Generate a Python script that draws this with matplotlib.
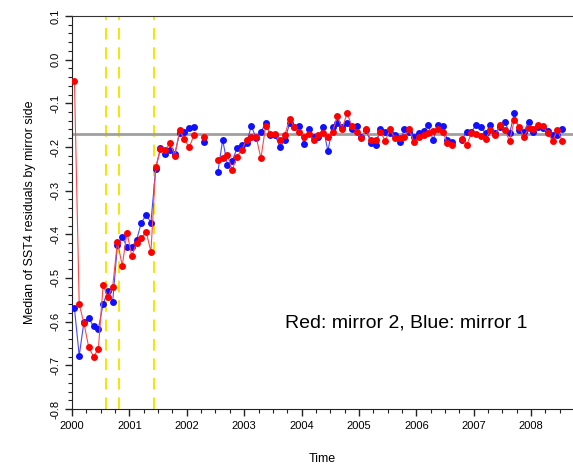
import matplotlib
matplotlib.use("Agg")
import matplotlib.pyplot as plt
from matplotlib.ticker import MultipleLocator
import numpy as np

plt.rcParams['font.family'] = ['Liberation Sans', 'DejaVu Sans']

# monthly index since Jan 2000
months = np.arange(103)
nan = np.nan

# mirror 2 (red)
red = [-0.048, -0.56, -0.604, -0.659, -0.68, -0.663, -0.517, -0.544, -0.52, -0.417,
       -0.472, -0.396, -0.45, -0.419, -0.409, -0.394, -0.44, -0.245, -0.205, -0.208,
       -0.19, -0.22, -0.162, -0.182, -0.201, -0.173, nan, -0.177, nan, nan,
       -0.23, -0.226, -0.218, -0.253, -0.222, -0.207, -0.183, -0.177, -0.177, -0.226,
       -0.152, -0.17, -0.171, -0.184, -0.173, -0.135, -0.155, -0.166, -0.177, -0.17,
       -0.184, -0.173, -0.168, -0.177, -0.165, -0.129, -0.158, -0.123, -0.151, -0.165,
       -0.18, -0.16, -0.184, -0.184, -0.166, -0.186, -0.16, -0.18, -0.18, -0.177,
       -0.16, -0.188, -0.177, -0.173, -0.169, -0.163, -0.16, -0.165, -0.192, -0.196,
       nan, -0.181, -0.196, -0.169, -0.17, -0.175, -0.181, -0.162, -0.173, -0.15,
       -0.161, -0.186, -0.138, -0.154, -0.177, -0.157, -0.16, -0.15, -0.152, -0.169,
       -0.186, -0.161, -0.186]

# mirror 1 (blue)
blue = [-0.569, -0.678, -0.60, -0.592, -0.611, -0.617, -0.56, -0.529, -0.554, -0.424,
        -0.407, -0.428, -0.43, -0.413, -0.373, -0.356, -0.373, -0.25, -0.203, -0.216,
        -0.207, -0.215, -0.169, -0.166, -0.157, -0.155, nan, -0.188, nan, nan,
        -0.257, -0.184, -0.241, -0.232, -0.203, -0.196, -0.19, -0.152, -0.18, -0.165,
        -0.146, -0.173, -0.173, -0.201, -0.184, -0.146, -0.155, -0.152, -0.193, -0.16,
        -0.177, -0.178, -0.155, -0.209, -0.155, -0.146, -0.154, -0.146, -0.16, -0.152,
        -0.177, -0.162, -0.19, -0.196, -0.16, -0.165, -0.167, -0.173, -0.188, -0.16,
        -0.165, -0.177, -0.167, -0.163, -0.15, -0.184, -0.15, -0.152, -0.184, -0.188,
        nan, -0.184, -0.165, -0.165, -0.15, -0.154, -0.169, -0.15, -0.169, -0.154,
        -0.142, -0.169, -0.123, -0.161, -0.165, -0.142, -0.165, -0.154, -0.157, -0.163,
        -0.173, -0.173, -0.16]

event_times = [2000.59, 2000.81, 2001.43]
ref_level = -0.17

time = 2000 + (months + 0.5) / 12

fig = plt.figure(figsize=(5.73, 4.69), dpi=100)
ax = fig.add_axes([0.1257, 0.128, 0.8743, 0.838])

for t in event_times:
    ax.axvline(t, color='#f5e600', lw=1.4, dashes=(6, 4), zorder=1)
ax.axhline(ref_level, color='#a0a0a0', lw=2, zorder=1)

ax.plot(time, blue, color='#4848ff', lw=0.8, zorder=2)
ax.plot(time, blue, 'o', color='#1010ff', ms=5, mec='none', zorder=3)
ax.plot(time, red, color='#ff4848', lw=0.8, zorder=4)
ax.plot(time, red, 'o', color='#ff0000', ms=5, mec='none', zorder=5)

ax.set_xlim(2000, 2008.73)
ax.set_ylim(-0.8, 0.1)
ax.xaxis.set_major_locator(MultipleLocator(1))
ax.xaxis.set_minor_locator(MultipleLocator(0.25))
ax.yaxis.set_minor_locator(MultipleLocator(0.02))
yt = np.round(np.arange(-0.8, 0.11, 0.1), 1)
ax.set_yticks(yt)
ax.set_yticklabels(['%.1f' % (v + 0.0) for v in yt], rotation=90, va='center')
ax.tick_params(which='major', length=5, width=1, labelsize=8, color='#222222')
ax.tick_params(which='minor', length=3, width=0.8, color='#222222')

ax.spines['right'].set_visible(False)
ax.spines['top'].set_color('#333333')
ax.spines['left'].set_color('#222222')
ax.spines['bottom'].set_color('#222222')

ax.set_xlabel('Time', fontsize=9, labelpad=16)
ax.set_ylabel('Median of SST4 residuals by mirror side', fontsize=9, labelpad=10)

ax.text(2005.82, -0.603, 'Red: mirror 2, Blue: mirror 1', fontsize=14, ha='center', va='center')

fig.savefig('out.png', dpi=100)
